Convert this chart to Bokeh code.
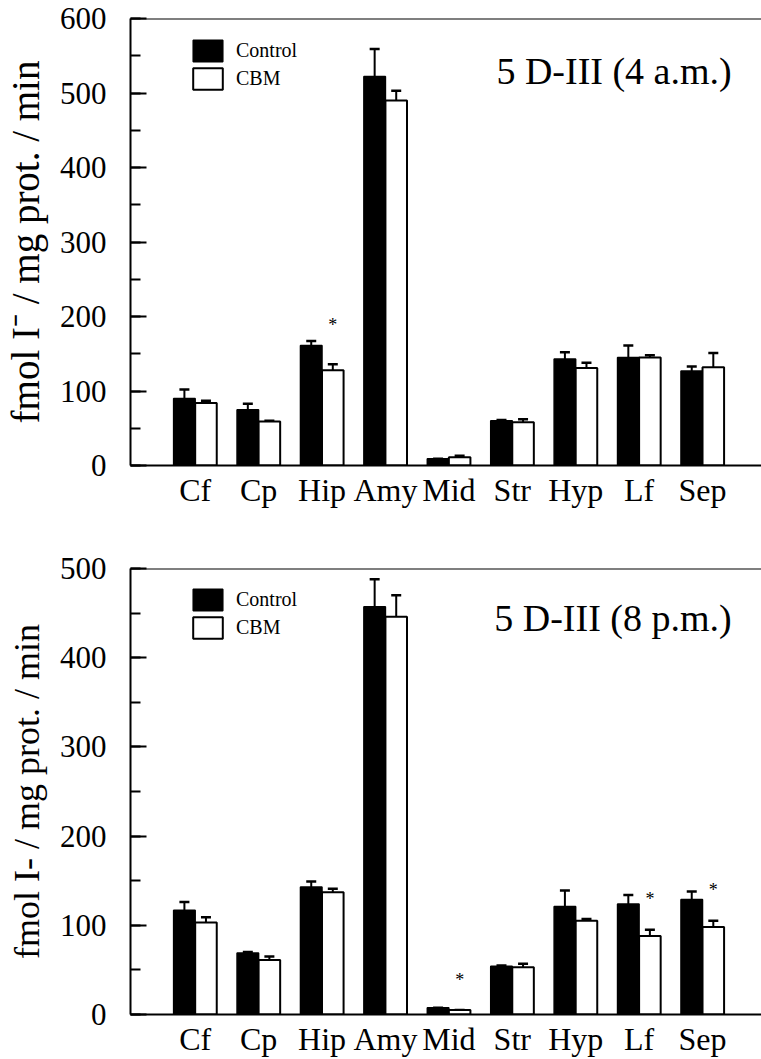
from bokeh.plotting import figure
from bokeh.models import (Range1d, FixedTicker, SingleIntervalTicker, Span, Label,
                          Legend, LegendItem, ColumnDataSource, Whisker, TeeHead)
from bokeh.layouts import column
from bokeh.embed import file_html
from bokeh.resources import INLINE
from bokeh.core.properties import value

FONT = "Liberation Serif"

regions = ["Cf", "Cp", "Hip", "Amy", "Mid", "Str", "Hyp", "Lf", "Sep"]

# Panel 1: 5 D-III (4 a.m.)
am_control = [90, 75, 161, 522, 9, 60, 143, 145, 127]
am_control_err = [12, 8, 6, 37, 0, 1, 9, 16, 6]
am_cbm = [84, 59, 128, 490, 11, 58, 131, 145, 132]
am_cbm_err = [3, 1, 8, 13, 2, 4, 7, 3, 19]
am_sig = ["Hip"]
am_sig_y = [188]

# Panel 2: 5 D-III (8 p.m.)
pm_control = [117, 69, 143, 457, 7.5, 54, 121, 124, 129]
pm_control_err = [9, 1, 6, 31, 0, 1, 18, 10, 9]
pm_cbm = [103, 61, 137, 446, 5, 53, 105, 88, 98]
pm_cbm_err = [6, 4, 4, 24, 0, 4, 2, 7, 7]
pm_sig = ["Mid", "Lf", "Sep"]
pm_sig_y = [39, 129, 140]

titles = ["5 D-III (4 a.m.)", "5 D-III (8 p.m.)"]
ylabels = ["fmol I\u207b / mg prot. / min", "fmol I- / mg prot. / min"]

BAR_W = 0.34
OFF = 0.17


def make_panel(control, cerr, cbm, berr, sig, sig_y, ymax, title, ylabel,
               height, btop, bbottom, bleft, ylab_size, title_y):
    xs = [i + 1 for i in range(len(regions))]
    p = figure(width=761, height=height, output_backend="svg", toolbar_location=None,
               x_range=Range1d(-0.02, 9.93), y_range=Range1d(0, ymax),
               min_border_top=btop, min_border_bottom=bbottom,
               min_border_left=bleft, min_border_right=0)
    p.outline_line_color = None
    p.xgrid.visible = False
    p.ygrid.visible = False
    p.background_fill_color = "white"

    src_c = ColumnDataSource(dict(x=[x - OFF for x in xs], top=control,
                                  up=[v + e for v, e in zip(control, cerr)]))
    src_b = ColumnDataSource(dict(x=[x + OFF for x in xs], top=cbm,
                                  up=[v + e for v, e in zip(cbm, berr)]))

    r1 = p.vbar(x="x", top="top", bottom=0, width=BAR_W, source=src_c,
                fill_color="black", line_color="black", line_width=1.5)
    r2 = p.vbar(x="x", top="top", bottom=0, width=BAR_W, source=src_b,
                fill_color="white", line_color="black", line_width=2)

    for src in (src_c, src_b):
        w = Whisker(source=src, base="x", lower="top", upper="up", dimension="height",
                    lower_head=None, upper_head=TeeHead(size=10, line_width=2.5,
                                                       line_color="black"),
                    line_color="black", line_width=2)
        p.add_layout(w)

    sx = [regions.index(s) + 1 + OFF for s in sig]
    p.text(x=sx, y=sig_y, text=["*"] * len(sig), text_align="center",
           text_baseline="middle", text_font=value(FONT), text_font_size="18px",
           text_color="#000000")

    p.add_layout(Span(location=ymax, dimension="width", line_color="black", line_width=2))

    # axes
    xa = p.xaxis[0]
    xa.ticker = FixedTicker(ticks=xs)
    xa.major_label_overrides = {x: r for x, r in zip(xs, regions)}
    xa.major_tick_line_color = None
    xa.minor_tick_line_color = None
    xa.major_tick_out = 0
    xa.major_tick_in = 0
    xa.minor_tick_out = 0
    xa.minor_tick_in = 0
    xa.axis_line_width = 2
    xa.major_label_text_font = FONT
    xa.major_label_text_font_size = "32px"
    xa.major_label_text_color = "black"
    xa.major_label_standoff = 6

    ya = p.yaxis[0]
    ya.ticker = SingleIntervalTicker(interval=100, num_minor_ticks=2)
    ya.axis_line_width = 2
    ya.major_tick_in = 16
    ya.major_tick_out = 0
    ya.minor_tick_in = 10
    ya.minor_tick_out = 0
    ya.major_tick_line_width = 2
    ya.minor_tick_line_width = 2
    ya.major_label_text_font = FONT
    ya.major_label_text_font_size = "31px"
    ya.major_label_text_color = "black"
    ya.major_label_standoff = 24
    ya.axis_label = ylabel
    ya.axis_label_text_font = FONT
    ya.axis_label_text_font_size = ylab_size
    ya.axis_label_text_font_style = "normal"
    ya.axis_label_text_color = "black"
    ya.axis_label_standoff = 10

    p.add_layout(Label(x=9.46, y=title_y, text=title, text_align="right",
                       text_baseline="alphabetic", text_font=FONT,
                       text_font_size="38px", text_color="black"))

    legend = Legend(items=[LegendItem(label="Control", renderers=[r1]),
                           LegendItem(label="CBM", renderers=[r2])],
                    location=(59, 373), orientation="vertical",
                    border_line_color=None, background_fill_alpha=0,
                    padding=0, margin=0, spacing=1, label_standoff=10,
                    glyph_width=37, glyph_height=27,
                    label_text_font=FONT, label_text_font_size="20px",
                    label_text_color="black")
    p.add_layout(legend)
    return p


p1 = make_panel(am_control, am_control_err, am_cbm, am_cbm_err, am_sig, am_sig_y,
                600, titles[0], ylabels[0], 522, 18, 57, 130, "39px", 530)
p2 = make_panel(pm_control, pm_control_err, pm_cbm, pm_cbm_err, pm_sig, pm_sig_y,
                500, titles[1], ylabels[1], 537, 46, 44, 130, "36px", 444)

layout = column(p1, p2, spacing=0)
open("out.html", "w").write(file_html(layout, INLINE))
